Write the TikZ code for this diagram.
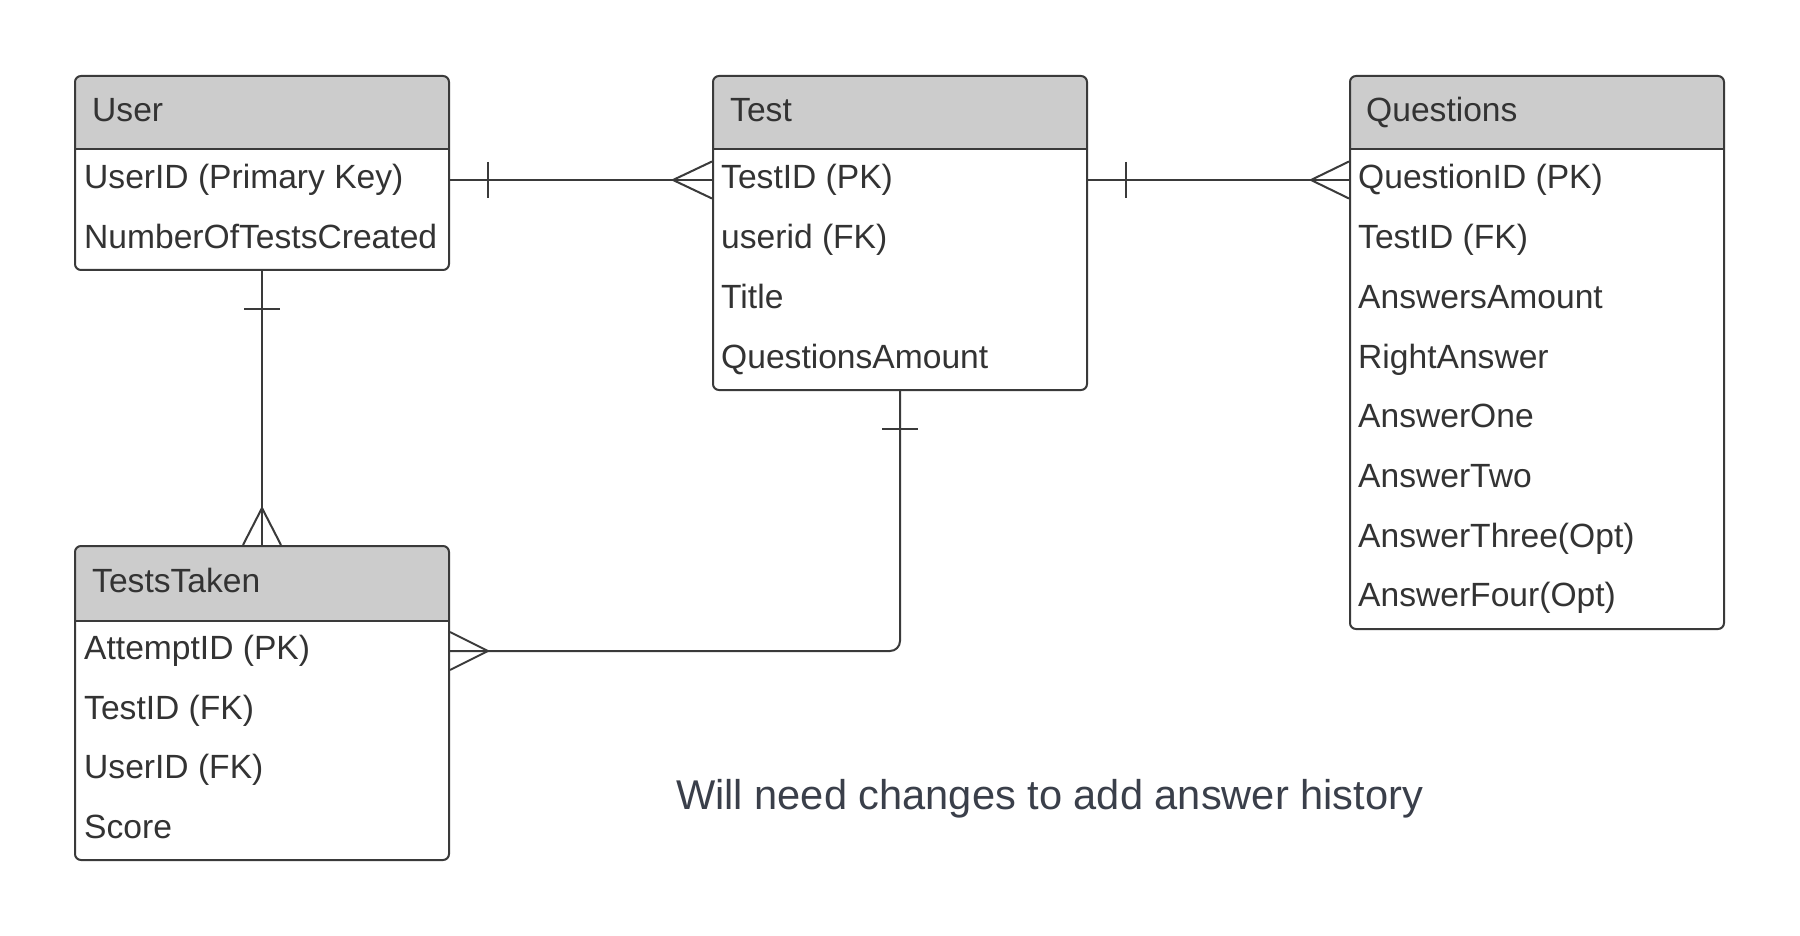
\documentclass[tikz,border=0pt]{standalone}
\usepackage{fontspec}
\setmainfont{Liberation Sans}
\definecolor{linec}{HTML}{3A3A3A}
\definecolor{headc}{HTML}{CCCCCC}
\definecolor{textc}{HTML}{333333}
\definecolor{notec}{HTML}{3A3F4A}
\tikzset{
  entity/.style={draw=linec, line width=2pt, rounded corners=6pt, inner sep=0pt, fill=white},
  fieldtxt/.style={anchor=base west, inner sep=0pt, text=textc, font=\fontsize{33.6}{40}\selectfont},
  headtxt/.style={anchor=base west, inner sep=0pt, text=textc, font=\fontsize{33.6}{40}\selectfont},
  conn/.style={draw=linec, line width=2pt},
  notetxt/.style={anchor=base west, inner sep=0pt, text=notec, font=\fontsize{41.6}{48}\selectfont}
}
\newcommand{\entbox}[6]{% name, x1, y1, x2, y2, yheader
  \begin{scope}
    \clip[rounded corners=6pt] (#2,#3) rectangle (#4,#5);
    \fill[headc] (#2,#3) rectangle (#4,#6);
  \end{scope}
  \node[entity, fill=none, minimum width=#4pt-#2pt, minimum height=#5pt-#3pt] (#1) at ({(#2+#4)/2},{(#3+#5)/2}) {};
  \draw[conn] (#2,#6) -- (#4,#6);
}
\begin{document}
\begin{tikzpicture}[x=1pt,y=-1pt]
\useasboundingbox[fill=white] (0,0) rectangle (1800,936);

% Entities
\entbox{user}{75}{76}{449}{270}{149}
\entbox{test}{713}{76}{1087}{390}{149}
\entbox{quest}{1350}{76}{1724}{629}{149}
\entbox{taken}{75}{546}{449}{860}{621}

% User
\node[headtxt] (userh) at (92,122) {User};
\node[fieldtxt] (u1) at (84,189) {UserID (Primary Key)};
\node[fieldtxt] (u2) at (84,248.7) {NumberOfTestsCreated};

% Test
\node[headtxt] (testh) at (730,122) {Test};
\node[fieldtxt] (t1) at (721,189) {TestID (PK)};
\node[fieldtxt] (t2) at (721,248.7) {userid (FK)};
\node[fieldtxt] (t3) at (721,308.4) {Title};
\node[fieldtxt] (t4) at (721,368.1) {QuestionsAmount};

% Questions
\node[headtxt] (qh) at (1366,122) {Questions};
\node[fieldtxt] (q1) at (1358,189) {QuestionID (PK)};
\node[fieldtxt] (q2) at (1358,248.7) {TestID (FK)};
\node[fieldtxt] (q3) at (1358,308.4) {AnswersAmount};
\node[fieldtxt] (q4) at (1358,368.1) {RightAnswer};
\node[fieldtxt] (q5) at (1358,427.8) {AnswerOne};
\node[fieldtxt] (q6) at (1358,487.5) {AnswerTwo};
\node[fieldtxt] (q7) at (1358,547.2) {AnswerThree(Opt)};
\node[fieldtxt] (q8) at (1358,606.9) {AnswerFour(Opt)};

% TestsTaken
\node[headtxt] (tth) at (92,592.5) {TestsTaken};
\node[fieldtxt] (a1) at (84,659.5) {AttemptID (PK)};
\node[fieldtxt] (a2) at (84,719.2) {TestID (FK)};
\node[fieldtxt] (a3) at (84,778.9) {UserID (FK)};
\node[fieldtxt] (a4) at (84,838.6) {Score};

% Note
\node[notetxt] (note) at (676,809) {Will need changes to add answer history};

% User -- Test (one to many)
\draw[conn] (user.east |- 0,180) -- (test.west |- 0,180);
\draw[conn] (488,162) -- (488,198);
\draw[conn] (test.west |- 0,161.5) -- (673,180) -- (test.west |- 0,198.5);

% Test -- Questions (one to many)
\draw[conn] (test.east |- 0,180) -- (quest.west |- 0,180);
\draw[conn] (1126,162) -- (1126,198);
\draw[conn] (quest.west |- 0,161.5) -- (1311,180) -- (quest.west |- 0,198.5);

% User -- TestsTaken (one to many)
\draw[conn] (user.south) -- (taken.north);
\draw[conn] (244,309) -- (280,309);
\draw[conn] (taken.north -| 243,0) -- (262,508) -- (taken.north -| 281,0);

% Test -- TestsTaken (one to many)
\draw[conn, rounded corners=10pt] (test.south -| 900,0) -- (900,651) -- (taken.east |- 0,651);
\draw[conn] (882,429) -- (918,429);
\draw[conn] (taken.east |- 0,632) -- (488,651) -- (taken.east |- 0,670);
\end{tikzpicture}
\end{document}
